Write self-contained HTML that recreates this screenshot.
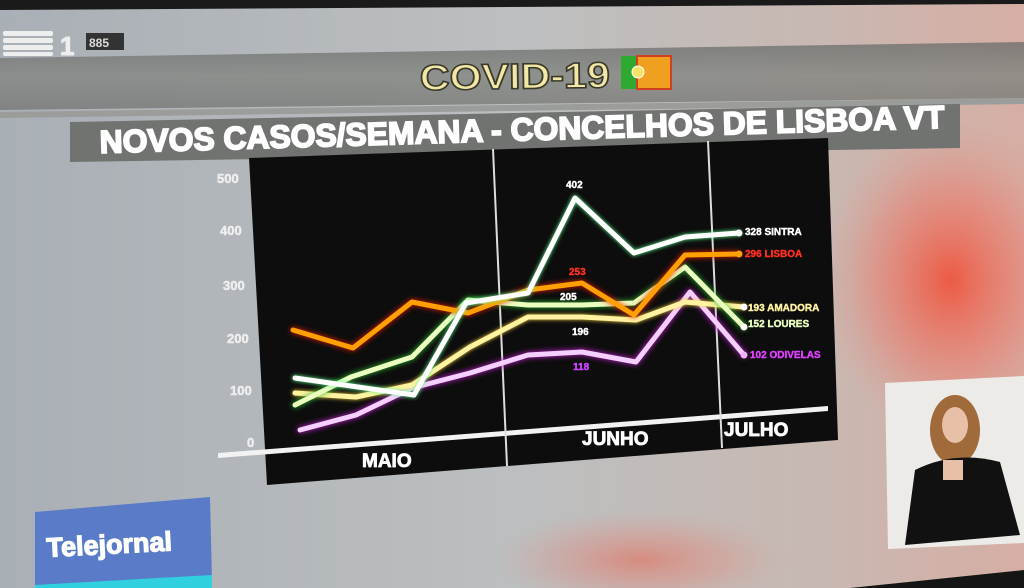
<!DOCTYPE html>
<html><head><meta charset="utf-8"><style>
html,body{margin:0;padding:0;width:1024px;height:588px;overflow:hidden;background:#aab0b6}
svg{display:block}
text{font-family:"Liberation Sans",sans-serif;font-weight:700}
</style></head><body>
<svg width="1024" height="588" viewBox="0 0 1024 588" xmlns="http://www.w3.org/2000/svg">
<defs>
<linearGradient id="bg" x1="0" y1="0" x2="1" y2="0">
<stop offset="0" stop-color="#a9afb6"/><stop offset="0.5" stop-color="#bcbfc0"/><stop offset="0.8" stop-color="#c8b8b2"/><stop offset="1" stop-color="#d6aea4"/>
</linearGradient>
<radialGradient id="red1" cx="0.5" cy="0.5" r="0.5">
<stop offset="0" stop-color="#f05038" stop-opacity="0.9"/><stop offset="0.6" stop-color="#f07060" stop-opacity="0.4"/><stop offset="1" stop-color="#e09080" stop-opacity="0"/>
</radialGradient>
<linearGradient id="band" x1="0" y1="0" x2="0" y2="1">
<stop offset="0" stop-color="#6d706d"/><stop offset="0.5" stop-color="#848682"/><stop offset="1" stop-color="#777976"/>
</linearGradient>
</defs>
<rect width="1024" height="588" fill="url(#bg)"/>
<ellipse cx="950" cy="280" rx="130" ry="160" fill="url(#red1)"/>
<ellipse cx="640" cy="560" rx="150" ry="50" fill="url(#red1)" opacity="0.5"/>
<polygon points="0,0 1024,0 1024,4 0,10" fill="#1a1a1a"/>
<polygon points="850,588 1024,570 1024,588" fill="#151515"/>
<polygon points="0,58 1024,42 1024,98 0,110" fill="url(#band)" opacity="0.8"/>
<polygon points="0,112 1024,98 1024,104 0,118" fill="#9a9d9a"/>
<polygon points="70,122 960,104 960,148 70,162" fill="#707370"/>
<g fill="#eee"><rect x="3" y="31" width="50" height="5" rx="2"/><rect x="3" y="38" width="50" height="5" rx="2"/><rect x="3" y="45" width="50" height="5" rx="2"/><rect x="3" y="52" width="50" height="4" rx="2"/></g>
<text x="60" y="55" font-size="26" fill="#eee" stroke="#eee" stroke-width="1">1</text>
<rect x="86" y="33" width="38" height="17" fill="#333"/>
<text x="89" y="47" font-size="12" fill="#ddd">885</text>
<text x="420" y="90" font-size="36" fill="#f3e7a8" stroke="#3a3a2a" stroke-width="1.6" textLength="190" lengthAdjust="spacingAndGlyphs" transform="rotate(-0.8 420 90)">COVID-19</text>
<rect x="621" y="56" width="16" height="33" fill="#2faa30"/><rect x="637" y="56" width="34" height="33" fill="#f0a020" stroke="#d04020" stroke-width="2"/>
<circle cx="638" cy="72" r="6" fill="#f7e26a" stroke="#fff"/>
<text x="100" y="153" font-size="32" fill="#fff" stroke="#fff" stroke-width="1.8" transform="rotate(-1.7 100 153)" textLength="845" lengthAdjust="spacingAndGlyphs">NOVOS CASOS/SEMANA - CONCELHOS DE LISBOA VT</text>
<polygon points="249,158 828,138 838,440 267,485" fill="#0d0d0d"/>
<polygon points="218,453 828,406 828,411 218,458" fill="#f2f2f2"/>
<line x1="493" y1="149" x2="507" y2="466" stroke="#ddd" stroke-width="2"/>
<line x1="708" y1="141" x2="722" y2="448" stroke="#ddd" stroke-width="2"/>
<g fill="#eee" stroke="#eee" stroke-width="0.5" font-size="13">
<text x="217" y="183">500</text><text x="220" y="235">400</text><text x="223" y="290">300</text><text x="227" y="343">200</text><text x="230" y="395">100</text><text x="247" y="447">0</text>
</g>
<g fill="#fff" stroke="#fff" stroke-width="0.8" font-size="19">
<text x="362" y="467">MAIO</text><text x="582" y="445">JUNHO</text><text x="724" y="436">JULHO</text>
</g>
<g fill="none" stroke-width="5" stroke-linejoin="round" stroke-linecap="round">
<polyline stroke="#f5d0ff" points="300,430 356,415 412,388 470,373 528,355 582,352 636,362 690,292 744,355" style="filter:drop-shadow(0 0 3px #d020e0)"/>
<polyline stroke="#fff2a0" points="295,393 356,397 412,385 470,347 528,317 582,317 636,320 685,302 744,307" style="filter:drop-shadow(0 0 2px #f0d040)"/>
<polyline stroke="#eaffc0" points="295,405 351,377 412,357 468,300 528,305 582,305 634,303 685,267 744,327" style="filter:drop-shadow(0 0 3px #30c030)"/>
<polyline stroke="#ffa000" points="293,330 353,348 412,302 468,313 528,290 582,283 634,315 685,255 739,254" style="filter:drop-shadow(0 0 3px #f02000)"/>
<polyline stroke="#ffffff" points="295,378 414,395 466,303 528,293 575,198 634,253 685,237 739,233" style="filter:drop-shadow(0 0 2px #60ff90)"/>
</g>
<g fill="#fff"><circle cx="739" cy="233" r="3.5"/><circle cx="744" cy="307" r="3.5"/><circle cx="744" cy="327" r="3.5"/><circle cx="744" cy="355" r="3.5" fill="#f0b0ff"/><circle cx="739" cy="254" r="3.5" fill="#ffa000"/></g>
<g font-size="10" stroke-width="0.4">
<text x="566" y="188" fill="#fff" stroke="#fff">402</text>
<text x="569" y="275" fill="#ff3020" stroke="#ff3020">253</text>
<text x="560" y="300" fill="#fff" stroke="#fff">205</text>
<text x="572" y="335" fill="#fff" stroke="#fff">196</text>
<text x="573" y="370" fill="#d040ff" stroke="#d040ff">118</text>
<text x="745" y="235" fill="#fff" stroke="#fff">328 SINTRA</text>
<text x="745" y="257" fill="#ff3020" stroke="#ff3020">296 LISBOA</text>
<text x="748" y="311" fill="#fff2a0" stroke="#fff2a0">193 AMADORA</text>
<text x="748" y="327" fill="#eaffc0" stroke="#eaffc0">152 LOURES</text>
<text x="750" y="358" fill="#e040ff" stroke="#e040ff">102 ODIVELAS</text>
</g>
<polygon points="885,383 1024,376 1024,543 888,549" fill="#ecebe8"/>
<ellipse cx="955" cy="430" rx="25" ry="35" fill="#a06a3a"/>
<ellipse cx="955" cy="425" rx="13" ry="18" fill="#e8c0a8"/>
<path d="M915,470 Q955,450 1000,462 L1020,535 L905,545 Z" fill="#111"/>
<rect x="943" y="460" width="20" height="20" fill="#e8c0a8"/>
<polygon points="35,512 210,497 212,580 35,588" fill="#5a7cc8"/>
<polygon points="35,585 212,575 212,588 35,588" fill="#30d0e0"/>
<text x="47" y="557" font-size="27" fill="#fff" stroke="#fff" stroke-width="1.2" transform="rotate(-3 47 557)">Telejornal</text>
</svg>
</body></html>
